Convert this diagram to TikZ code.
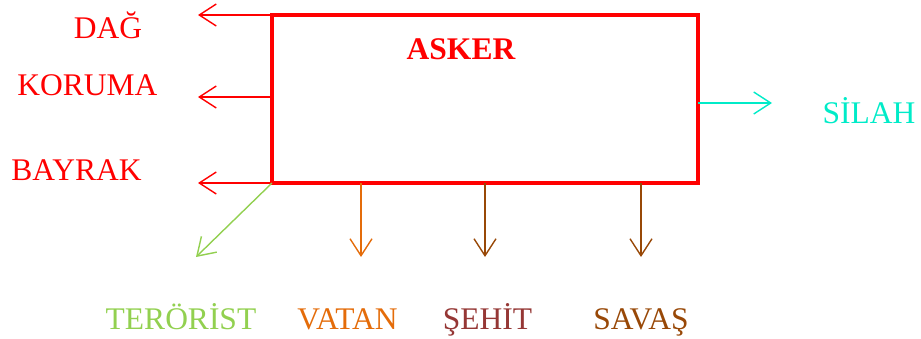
\documentclass[tikz,border=0pt]{standalone}
\usepackage{fontspec}
\setmainfont{Liberation Serif}
\usepackage{tikz}
\usetikzlibrary{arrows.meta, positioning, calc}
\usepackage{xcolor}
\definecolor{askerred}{RGB}{255,0,0}
\definecolor{silahcyan}{RGB}{0,235,200}
\definecolor{terorgreen}{RGB}{146,208,80}
\definecolor{vatanorange}{RGB}{228,108,10}
\definecolor{sehitred}{RGB}{149,55,53}
\definecolor{savasbrown}{RGB}{152,72,7}
\tikzset{
    kutu/.style={draw=askerred, line width=4pt, minimum width=426pt, minimum height=168pt, inner sep=0pt, outer sep=0pt},
    ok/.style={line width=1.4pt, -{Straight Barb[length=17pt, width=22pt, line width=1.4pt]}},
    etiket/.style={font=\fontsize{31.5}{37}\selectfont, anchor=base, inner sep=0pt},
    baslik/.style={etiket, font=\fontsize{31.5}{37}\selectfont\bfseries}
}
\begin{document}
\begin{tikzpicture}[x=1pt, y=-1pt]
    \useasboundingbox (0,0) rectangle (921,338);
    \node[kutu] (asker) at (485,99) {};
    \node[baslik, text=askerred] (baslik) at (461,59) {ASKER};

    % sol taraf
    \node[etiket, text=askerred] (dag) at (108,38) {DAĞ};
    \node[etiket, text=askerred] (koruma) at (87.5,95) {KORUMA};
    \node[etiket, text=askerred] (bayrak) at (76.5,180) {BAYRAK};
    \coordinate (dagok) at (198,15);
    \coordinate (korumaok) at (198,97);
    \coordinate (bayrakok) at (198,183);
    \draw[ok, askerred] (asker.north west) -- (dagok);
    \draw[ok, askerred] ($(asker.west)+(0,-2)$) -- (korumaok);
    \draw[ok, askerred] (asker.south west) -- (bayrakok);

    % sag taraf
    \node[etiket, text=silahcyan] (silah) at (869,123) {SİLAH};
    \coordinate (silahok) at (772,103);
    \draw[ok, silahcyan] ($(asker.east)+(0,4)$) -- (silahok);

    % alt taraf
    \node[etiket, text=terorgreen] (terorist) at (181,329) {TERÖRİST};
    \node[etiket, text=vatanorange] (vatan) at (347.5,329) {VATAN};
    \node[etiket, text=sehitred] (sehit) at (487.5,329) {ŞEHİT};
    \node[etiket, text=savasbrown] (savas) at (641,329) {SAVAŞ};
    \coordinate (terorok) at (196,257);
    \draw[ok, terorgreen] (asker.south west) -- (terorok);
    \foreach \x/\ad/\renk in {361/vatan/vatanorange, 485/sehit/savasbrown, 641/savas/savasbrown}{
        \coordinate (\ad ust) at (\x,183);
        \coordinate (\ad ok) at (\x,257);
        \draw[ok, \renk] (\ad ust) -- (\ad ok);
    }
\end{tikzpicture}
\end{document}
